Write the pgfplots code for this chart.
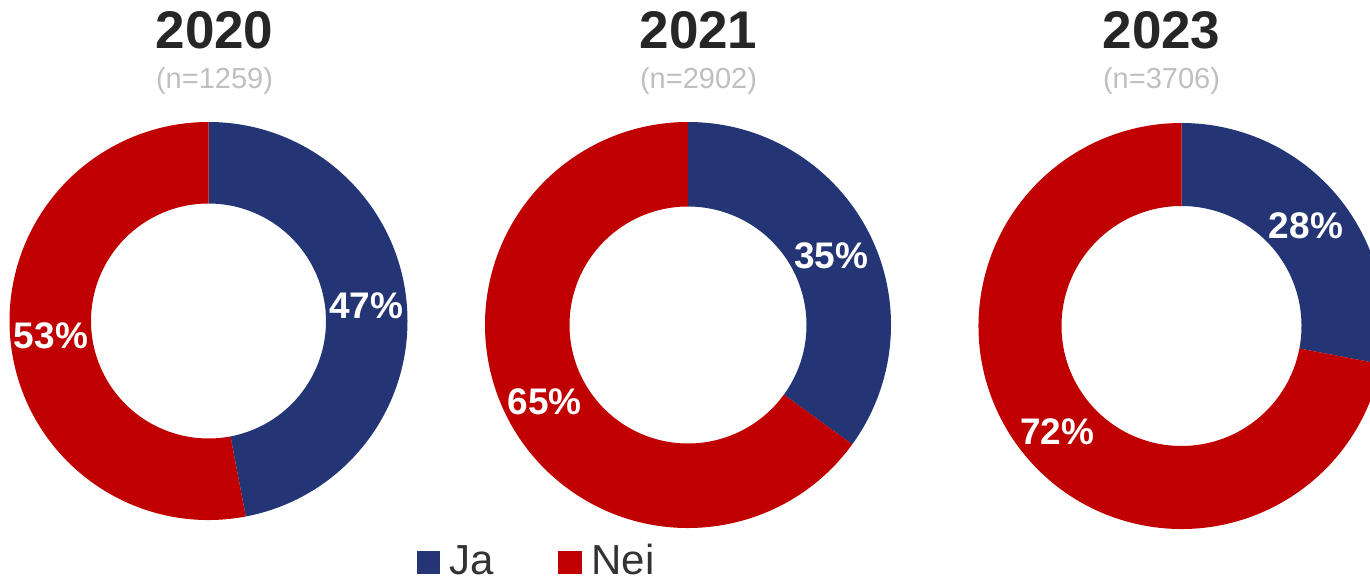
\documentclass[border=0pt]{standalone}
\usepackage{fontspec}
\setmainfont{Liberation Sans}
\usepackage{pgfplots}
\pgfplotsset{compat=1.18}
\usetikzlibrary{calc}
\definecolor{JaBlue}{HTML}{243575}
\definecolor{NeiRed}{HTML}{C00000}
\definecolor{TitleGrey}{HTML}{262626}
\definecolor{NGrey}{HTML}{BFBFBF}
\definecolor{LegText}{HTML}{333333}

% #1 cx, #2 cy (axis units = px), #3 outer radius, #4 inner radius, #5 share of "Ja" in %, #6 label shift
\newcommand\donut[6]{%
  \fill[JaBlue] (axis cs:#1,#2) ++(90:#3) arc[start angle=90, end angle={90-3.6*#5}, radius=#3]
    -- ($(axis cs:#1,#2)+({90-3.6*#5}:#4)$) arc[start angle={90-3.6*#5}, end angle=90, radius=#4] -- cycle;
  \fill[NeiRed] ($(axis cs:#1,#2)+({90-3.6*#5}:#3)$) arc[start angle={90-3.6*#5}, end angle=-270, radius=#3]
    -- ($(axis cs:#1,#2)+(90:#4)$) arc[start angle=-270, end angle={90-3.6*#5}, radius=#4] -- cycle;
  \node[text=white, yshift=#6, font=\bfseries\fontsize{18.5}{20}\selectfont]
    at ($(axis cs:#1,#2)+({90-1.8*#5}:{(#3+#4)/2})$) {#5\%};
  \node[text=white, yshift=#6, font=\bfseries\fontsize{18.5}{20}\selectfont]
    at ($(axis cs:#1,#2)+({-90-1.8*#5}:{(#3+#4)/2})$) {\the\numexpr100-#5\relax\%};
}
\newcommand\heading[3]{%
  \node[text=TitleGrey, font=\bfseries\fontsize{26.5}{28}\selectfont] at (axis cs:#1,550) {#2};
  \node[text=NGrey, font=\fontsize{14.5}{16}\selectfont] at (axis cs:#1,499) {(n=#3)};
}

\begin{document}
\begin{tikzpicture}
\path[use as bounding box, clip] (0,0) rectangle (685pt,290pt);
\begin{axis}[
    width=685pt, height=290pt, scale only axis,
    xmin=0, xmax=1370, ymin=0, ymax=580,
    hide axis, clip=false
]
\donut{208.5}{259}{99.5pt}{58.75pt}{47}{0pt}
\donut{688}{255}{101.5pt}{59.25pt}{35}{-2pt}
\donut{1181.5}{254}{101.5pt}{60pt}{28}{-1.5pt}

\heading{214.5}{2020}{1259}
\heading{698.5}{2021}{2902}
\heading{1161.5}{2023}{3706}

% legend
\fill[JaBlue] (axis cs:417,6) rectangle (axis cs:440,29);
\node[anchor=base west, inner sep=0pt, text=LegText, font=\fontsize{21}{22}\selectfont] at (axis cs:449,6) {Ja};
\fill[NeiRed] (axis cs:558,6) rectangle (axis cs:582,29);
\node[anchor=base west, inner sep=0pt, text=LegText, font=\fontsize{21}{22}\selectfont] at (axis cs:591,6) {Nei};
\end{axis}
\end{tikzpicture}
\end{document}
